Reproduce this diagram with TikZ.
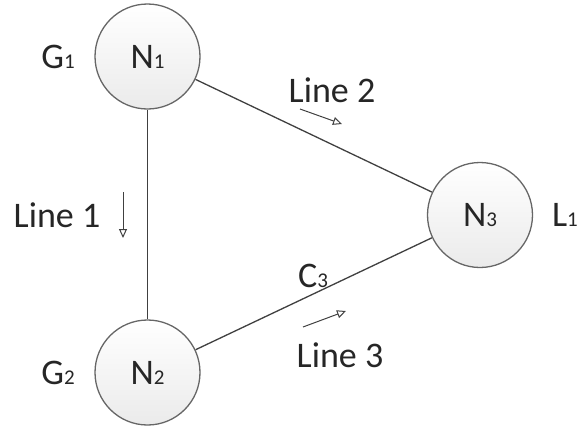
\documentclass[tikz,border=0pt]{standalone}
\usepackage{fontspec}
\setmainfont{Carlito}
\usetikzlibrary{arrows.meta}
\newcommand{\busname}[2]{#1{\fontsize{21}{21}\selectfont #2}}
\begin{document}
\begin{tikzpicture}[x=1pt,y=-1pt,
  bus/.style={circle,draw=black!60,line width=1.3pt,top color=white,bottom color=black!8,minimum size=105pt,inner sep=0pt,
    font=\fontsize{36}{40}\selectfont,text=black!85},
  tag/.style={font=\fontsize{36}{40}\selectfont,text=black!85,inner sep=0pt},
  line/.style={draw=black!75,line width=1.3pt},
  flow/.style={draw=black!75,line width=1pt,-{Triangle[open,length=9pt,width=8pt]}}]
\useasboundingbox (0,0) rectangle (587,426);
% buses
\node[bus] (n1) at (147.5,56.5) {\busname{N}{1}};
\node[bus] (n2) at (147.5,372.5) {\busname{N}{2}};
\node[bus] (n3) at (480,215) {\busname{N}{3}};
% branches
\draw[line] (n1) -- (n2);
\draw[line] (n1) -- (n3);
\draw[line] (n2) -- (n3);
% bus tags
\node[tag] (g1) at (58,57) {\busname{G}{1}};
\node[tag] (g2) at (58,373) {\busname{G}{2}};
\node[tag] (l1) at (565,215) {\busname{L}{1}};
% branch labels
\node[tag] (t1) at (57,215) {Line 1};
\node[tag] (t2) at (332,90) {Line 2};
\node[tag] (t3) at (340,355) {Line 3};
\node[tag] (c3) at (313,276) {\busname{C}{3}};
% flow directions
\coordinate (a1s) at (123,192);
\coordinate (a1e) at (123,238);
\coordinate (a2s) at (300,109);
\coordinate (a2e) at (342,124);
\coordinate (a3s) at (303,327);
\coordinate (a3e) at (346,311);
\draw[flow] (a1s) -- (a1e);
\draw[flow] (a2s) -- (a2e);
\draw[flow] (a3s) -- (a3e);
\end{tikzpicture}
\end{document}
